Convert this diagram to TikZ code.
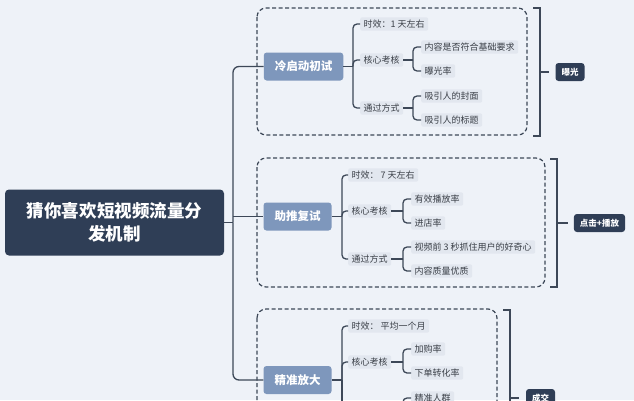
\documentclass[tikz,border=0pt]{standalone}
\usepackage{fontspec}
\setmainfont{Noto Sans CJK SC}
\definecolor{bgc}{HTML}{EEF2F8}
\definecolor{rootc}{HTML}{2F3E56}
\definecolor{secc}{HTML}{7E97BC}
\definecolor{itemc}{HTML}{E2E7EF}
\definecolor{txtc}{HTML}{3A3F47}
\definecolor{linec}{HTML}{3D4858}
\begin{document}
\begin{tikzpicture}[x=1pt,y=-1pt,
  rootbox/.style={fill=rootc,text=white,rounded corners=4pt,minimum width=219pt,minimum height=66pt,inner sep=0pt,align=center,font=\fontsize{17.5}{23}\selectfont\bfseries},
  secbox/.style={fill=secc,text=white,rounded corners=3pt,minimum height=28pt,inner xsep=11pt,inner ysep=0pt,font=\fontsize{11.5}{13}\selectfont\bfseries},
  itembox/.style={fill=itemc,text=txtc,rounded corners=2pt,inner xsep=3.5pt,inner ysep=2.5pt,anchor=west,font=\fontsize{9}{10}\selectfont},
  resbox/.style={fill=rootc,text=white,rounded corners=3pt,minimum height=18pt,inner xsep=6pt,inner ysep=0pt,font=\fontsize{8.5}{10}\selectfont\bfseries},
  conn/.style={draw=linec,line width=1.3pt},
  rc/.style={rounded corners=4pt},
  dbox/.style={draw=linec,dashed,dash pattern=on 4pt off 2.5pt,line width=1.2pt,rounded corners=9pt},
]
\useasboundingbox (0,0) rectangle (634,400);
\fill[bgc] (0,0) rectangle (634,400);

% dashed group boxes
\draw[dbox] (257,8) rectangle (527,135);
\draw[dbox] (257,158) rectangle (545,287);
\draw[dbox] (257,309) rectangle (497,430);

% root
\node[rootbox] (root) at (114.5,222.5) {猜你喜欢短视频流量分\\发机制};

% sections
\node[secbox] (s1) at (303.5,66.5) {冷启动初试};
\node[secbox] (s2) at (297.5,216.5) {助推复试};
\node[secbox] (s3) at (297.5,380) {精准放大};

% trunk
\coordinate (t) at (233,222.5);
\draw[conn] (root.east) -- (t);
\draw[conn,rounded corners=6pt] (t) |- (s1.west);
\draw[conn,rounded corners=6pt] (t) |- (s3.west);
\draw[conn] (t |- s2.west) -- (s2.west);

% ---- section 1
\coordinate (j1) at (353,66.5);
\node[itembox] (a1) at (360,24) {时效：1 天左右};
\node[itembox] (a2) at (360,60) {核心考核};
\node[itembox] (a3) at (360,108) {通过方式};
\draw[conn] (s1.east) -- (j1);
\foreach \c in {a1,a2,a3} \draw[conn,rc] (j1) |- (\c.west);
\coordinate (k1) at (413,60);
\node[itembox] (a21) at (421,47) {内容是否符合基础要求};
\node[itembox] (a22) at (421,71) {曝光率};
\draw[conn] (a2.east) -- (k1);
\foreach \c in {a21,a22} \draw[conn,rc] (k1) |- (\c.west);
\coordinate (k2) at (413,108);
\node[itembox] (a31) at (421,96) {吸引人的封面};
\node[itembox] (a32) at (421,120) {吸引人的标题};
\draw[conn] (a3.east) -- (k2);
\foreach \c in {a31,a32} \draw[conn,rc] (k2) |- (\c.west);

% ---- section 2
\coordinate (j2) at (342,216.5);
\node[itembox] (b1) at (348,175) {时效： 7 天左右};
\node[itembox] (b2) at (348,211) {核心考核};
\node[itembox] (b3) at (348,259) {通过方式};
\draw[conn] (s2.east) -- (j2);
\foreach \c in {b1,b2,b3} \draw[conn,rc] (j2) |- (\c.west);
\coordinate (k3) at (403,211);
\node[itembox] (b21) at (411,199) {有效播放率};
\node[itembox] (b22) at (411,223) {进店率};
\draw[conn] (b2.east) -- (k3);
\foreach \c in {b21,b22} \draw[conn,rc] (k3) |- (\c.west);
\coordinate (k4) at (403,259);
\node[itembox] (b31) at (411,247) {视频前 3 秒抓住用户的好奇心};
\node[itembox] (b32) at (411,271) {内容质量优质};
\draw[conn] (b3.east) -- (k4);
\foreach \c in {b31,b32} \draw[conn,rc] (k4) |- (\c.west);

% ---- section 3
\coordinate (j3) at (342,380);
\coordinate (j3e) at (342,440);
\node[itembox] (c1) at (348,326) {时效： 平均一个月};
\node[itembox] (c2) at (348,362) {核心考核};
\draw[conn] (s3.east) -- (j3);
\foreach \c in {c1,c2} \draw[conn,rc] (j3) |- (\c.west);
\draw[conn] (j3) -- (j3e);
\coordinate (k5) at (403,362);
\node[itembox] (c21) at (411,349) {加购率};
\node[itembox] (c22) at (411,373) {下单转化率};
\draw[conn] (c2.east) -- (k5);
\foreach \c in {c21,c22} \draw[conn,rc] (k5) |- (\c.west);
\coordinate (k6) at (403,430);
\node[itembox] (c31) at (411,398) {精准人群};
\draw[conn,rc] (k6) |- (c31.west);

% ---- result brackets
\node[resbox] (r1) at (570,72) {曝光};
\draw[conn] (533,8) -- (540,8) -- (540,136) -- (533,136);
\coordinate (m1) at (540,72);
\draw[conn,shorten >=6pt] (m1) -- (r1.west);

\node[resbox] (r2) at (599.5,223) {点击+播放};
\draw[conn] (550,159) -- (557,159) -- (557,287) -- (550,287);
\coordinate (m2) at (557,223);
\draw[conn,shorten >=6pt] (m2) -- (r2.west);

\node[resbox] (r3) at (540.5,398) {成交};
\draw[conn] (503,310) -- (510,310) -- (510,440);
\coordinate (m3) at (510,398);
\draw[conn,shorten >=7pt] (m3) -- (r3.west);
\end{tikzpicture}
\end{document}
